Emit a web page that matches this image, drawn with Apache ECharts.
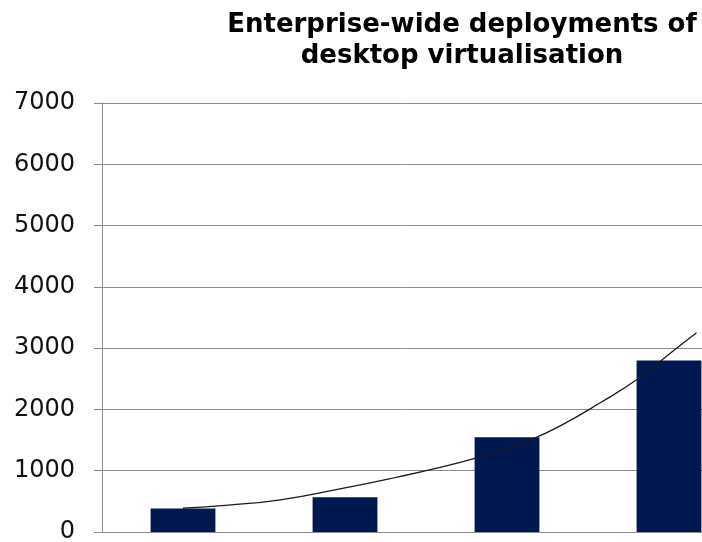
<!DOCTYPE html>
<html>
<head>
<meta charset="utf-8">
<script src="https://cdn.jsdelivr.net/npm/echarts@6/dist/echarts.min.js"></script>
<style>
  html, body { margin: 0; padding: 0; background: #ffffff; }
  #chart { width: 702px; height: 542px; }
</style>
</head>
<body>
<div id="chart"></div>
<script>
// ---- data ----
const titleLines = ['Enterprise-wide deployments of', 'desktop virtualisation'];
const categories = ['1', '2', '3', '4'];
const deployments = [385, 565, 1545, 2800];
const yTicks = [0, 1000, 2000, 3000, 4000, 5000, 6000, 7000];
// trendline: positions in category units (1 = first bar centre)
const trendX = [1.0, 1.28, 1.59, 2.0, 2.33, 2.58, 2.8, 3.0, 3.14, 3.32, 3.57, 3.82, 4.0, 4.17];
const trendY = [390, 440, 520, 720, 900, 1050, 1200, 1370, 1500, 1720, 2100, 2520, 2900, 3250];

const trendData = trendX.map((x, i) => [x, trendY[i]]);

const chart = echarts.init(document.getElementById('chart'), null, { renderer: 'canvas' });
chart.setOption({
  animation: false,
  backgroundColor: '#ffffff',
  title: {
    text: titleLines.join('\n'),
    left: 457,
    textAlign: 'center',
    top: 5,
    textStyle: {
      fontFamily: 'DejaVu Sans',
      fontWeight: 'bold',
      fontSize: 26,
      lineHeight: 31,
      color: '#000000'
    }
  },
  grid: { left: 102, top: 103, right: -48, bottom: 10, containLabel: false, outerBoundsMode: 'none' },
  xAxis: [
    {
      type: 'category',
      data: categories,
      axisLine: { show: true, lineStyle: { color: '#8c8c8c', width: 1 } },
      axisTick: { show: false },
      axisLabel: { show: false },
      splitLine: { show: false }
    },
    {
      type: 'value',
      min: 0.5,
      max: 4.5,
      show: false,
      position: 'bottom'
    }
  ],
  yAxis: {
    type: 'value',
    min: yTicks[0],
    max: yTicks[yTicks.length - 1],
    interval: 1000,
    axisLine: { show: true, lineStyle: { color: '#8c8c8c', width: 1 } },
    axisTick: { show: true, length: 8, lineStyle: { color: '#8c8c8c' } },
    axisLabel: {
      margin: 27,
      fontFamily: 'DejaVu Sans',
      fontSize: 24,
      color: '#111111',
      formatter: (v) => String(v)
    },
    splitLine: { show: true, lineStyle: { color: '#8c8c8c', width: 1 } }
  },
  series: [
    {
      type: 'bar',
      data: deployments,
      barWidth: '40%',
      itemStyle: { color: '#001850' },
      xAxisIndex: 0
    },
    {
      type: 'line',
      data: trendData,
      xAxisIndex: 1,
      smooth: true,
      symbol: 'none',
      lineStyle: { color: '#1a1a1a', width: 1.3 },
      z: 5
    }
  ]
});
</script>
</body>
</html>
